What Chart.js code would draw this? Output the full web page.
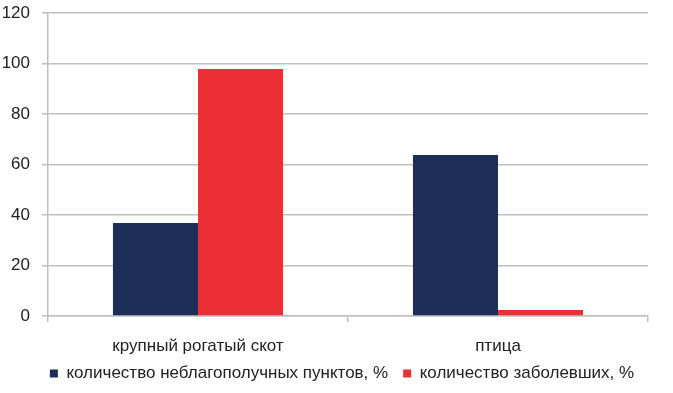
<!DOCTYPE html>
<html><head><meta charset="utf-8">
<script src="https://cdn.jsdelivr.net/npm/chart.js@4/dist/chart.umd.min.js"></script>
<style>html,body{margin:0;padding:0;background:#fff}#wrap{width:673px;height:393px}</style>
</head><body><div id="wrap"><canvas id="c" width="673" height="393"></canvas></div>
<script>
const categories = ["крупный рогатый скот", "птица"];
const seriesNames = ["количество неблагополучных пунктов, %", "количество заболевших, %"];
const outbreakPoints = [36.8, 63.8];
const diseased = [97.8, 2.4];
const yTicks = [0, 20, 40, 60, 80, 100, 120];
const FONT = "'Liberation Sans', Arial, sans-serif";
const legendTweak = {
  id: 'legendTweak',
  beforeLayout(chart) {
    const lg = chart.legend;
    if (lg && !lg._patched) {
      const orig = lg.fit.bind(lg);
      lg.fit = function () { orig(); this.height = 22; };
      lg._patched = true;
    }
  },
  afterLayout(chart) {
    const lg = chart.legend;
    if (lg) {
      lg.left += 18; lg.right += 18;
      lg.top -= 21; lg.height = 43; lg.bottom = lg.top + 43;
    }
  }
};
new Chart(document.getElementById('c'), {
  type: 'bar',
  data: {
    labels: categories,
    datasets: [
      {label: seriesNames[0], data: outbreakPoints, backgroundColor: '#1d2e58', categoryPercentage: 0.567, barPercentage: 1.0},
      {label: seriesNames[1], data: diseased, backgroundColor: '#ec2f35', categoryPercentage: 0.567, barPercentage: 1.0}
    ]
  },
  plugins: [legendTweak],
  options: {
    responsive: false, animation: false,
    layout: {padding: {top: 0, right: 25, left: 0, bottom: 0}},
    plugins: {
      legend: {position: 'bottom', labels: {boxWidth: 8, boxHeight: 8, color: '#222', font: {family: FONT, size: 17, lineHeight: 1}, padding: 15}},
      tooltip: {enabled: false}
    },
    scales: {
      x: {
        offset: true,
        grid: {display: true, drawOnChartArea: false, offset: true, color: '#bfbfbf', tickLength: 6, lineWidth: 1.5},
        border: {color: '#bfbfbf', width: 1.5},
        ticks: {color: '#222', font: {family: FONT, size: 17, lineHeight: 1}, padding: 16}
      },
      y: {
        min: 0, max: 120,
        afterBuildTicks: (axis) => { axis.ticks = yTicks.map(v => ({value: v})); },
        afterFit: (axis) => { axis.width = 48; axis.paddingTop = 13; },
        grid: {color: '#bfbfbf', lineWidth: 1.5, tickLength: 6},
        border: {color: '#bfbfbf', width: 1.5},
        ticks: {color: '#222', font: {family: FONT, size: 17, lineHeight: 0.8}, padding: 12}
      }
    }
  }
});
</script></body></html>
